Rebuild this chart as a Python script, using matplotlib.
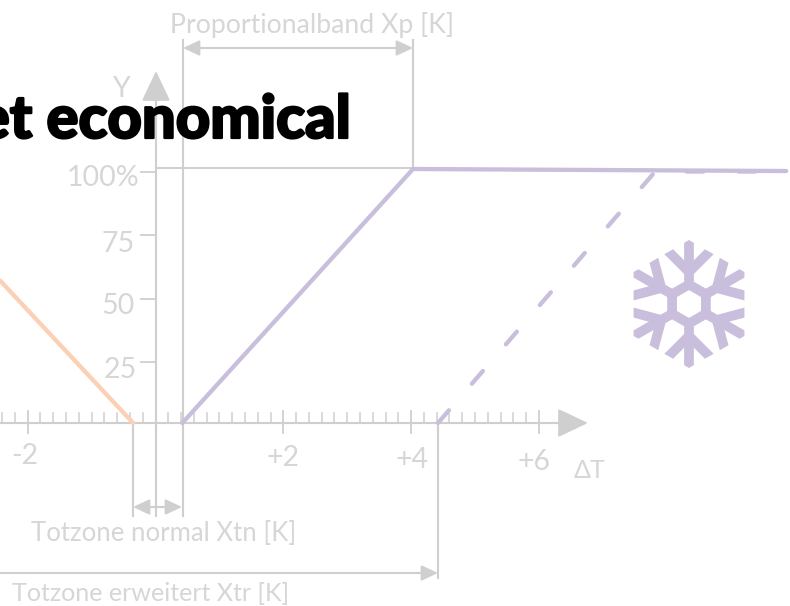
import numpy as np
import matplotlib
matplotlib.use("Agg")
import matplotlib.pyplot as plt
import matplotlib.patheffects as pe
from matplotlib.patches import Polygon

# chart values, delta T in K and output Y in %
heat_x = [-2.43, -0.35]
heat_y = [56, 0]
cool_x = [0.42, 4.03, 9.87]
cool_y = [0, 100, 99.2]
cool_ext_x = [4.42, 7.82, 9.87]
cool_ext_y = [0, 99, 99]
xtick_major = [-2, 2, 4, 6]
xtick_labels = ["-2", "+2", "+4", "+6"]
# the tick marks in the picture sit a little below their nominal values
ytick_vals = [24, 49, 74, 98.9]
ytick_labels = ["25", "50", "75", "100%"]
guide_100 = 100.4

GREY = "#cfcfcf"
TXT = "#d6d6d6"
PURPLE = "#c9bfdc"
ORANGE = "#fbd0b5"

W, H = 790, 606
fig = plt.figure(figsize=(W / 100, H / 100), dpi=100)
ax = fig.add_axes([0, 0, 1, 1])
px_x = 63.9
px_y = 2.54
x0, y0 = 155.5, 423
ax.set_xlim(-x0 / px_x, (W - x0) / px_x)
ax.set_ylim(-(H - y0) / px_y, y0 / px_y)
ax.axis("off")

plt.rcParams["font.family"] = ["Lato", "DejaVu Sans"]
font = dict(family=["Lato", "DejaVu Sans"], weight="normal", color=TXT)


def fx(p):
    return (p - x0) / px_x


def fy(p):
    return (y0 - p) / px_y


def arrow(x1, y1, x2, y2, style="-|>", hl=1.7, hw=0.85):
    ax.annotate("", xy=(fx(x2), fy(y2)), xytext=(fx(x1), fy(y1)),
                arrowprops=dict(arrowstyle=f"{style},head_length={hl},head_width={hw}",
                                color=GREY, lw=1.5, shrinkA=0, shrinkB=0,
                                mutation_scale=10), zorder=2)


# axes with big arrow heads
arrow(0, 423, 588, 423, hl=1.9, hw=0.9)
arrow(156, 423, 156, 71, hl=1.9, hw=0.9)

# ticks on x axis
for v in np.arange(-12, 30) / 5:
    if round(v * 5) % 10 == 0 and v != 0:
        continue
    ax.plot([v, v], [0, fy(413)], color=GREY, lw=1.1, zorder=1)
for v in xtick_major:
    ax.plot([v, v], [fy(433), fy(411)], color=GREY, lw=1.3, zorder=1)

# ticks on y axis
for v in ytick_vals:
    ax.plot([fx(141), 0], [v, v], color=GREY, lw=1.3, zorder=1)
ax.plot([fx(156), fx(413)], [guide_100, guide_100], color=GREY, lw=1.4, zorder=1)

# helper lines
for xp, top, bot in [(133, 423, 516), (156, 423, 516), (182.5, 40, 516), (413, 40, 168), (438, 423, 578)]:
    ax.plot([fx(xp), fx(xp)], [fy(top), fy(bot)], color=GREY, lw=1.5, zorder=1)

# dimension arrows
arrow(183, 48, 413, 48, style="<|-|>", hl=1.0, hw=0.47)
arrow(133, 507, 182, 507, style="<|-|>", hl=1.0, hw=0.47)
arrow(0, 573, 438, 573, hl=1.0, hw=0.47)

# curves
ax.plot(heat_x, heat_y, color=ORANGE, lw=3.1, solid_capstyle="round", zorder=3)
ax.plot(cool_x, cool_y, color=PURPLE, lw=3.1, solid_capstyle="round", solid_joinstyle="round", zorder=3)
ax.plot(cool_ext_x, cool_ext_y, color=PURPLE, lw=3.1, linestyle=(0, (3.9, 8.17)), dash_capstyle="round", zorder=3)

# tick labels
fs = 20.5
for lab, xp, yp in zip(xtick_labels, [25, 283, 412, 534], [455.5, 457.5, 460.5, 461.5]):
    ax.text(fx(xp), fy(yp), lab, ha="center", va="center", fontsize=fs, **font)
for lab, xp, yp in zip(ytick_labels, [137, 135, 135, 139], [369.5, 305.5, 243.5, 177.5]):
    ax.text(fx(xp), fy(yp), lab, ha="right", va="center", fontsize=fs, **font)
ax.text(fx(122), fy(89), "Y", ha="center", va="center", fontsize=fs, **font)
ax.text(fx(589), fy(470), "ΔT", ha="center", va="center", fontsize=18, **font)

ax.text(fx(311.5), fy(25), "Proportionalband Xp [K]", ha="center", va="center", fontsize=19.2, **font)
ax.text(fx(163.5), fy(533.5), "Totzone normal Xtn [K]", ha="center", va="center", fontsize=18.5, **font)
ax.text(fx(151), fy(593.5), "Totzone erweitert Xtr [K]", ha="center", va="center", fontsize=18.1, **font)

# headline over the chart
ax.text(fx(351), fy(138), "et economical", ha="right", va="baseline", fontsize=43,
        family=["Lato", "DejaVu Sans"], weight="black", color="black", zorder=5,
        path_effects=[pe.withStroke(linewidth=1.6, foreground="black")])

# snowflake in pixel coordinates
sn = fig.add_axes([0, 0, 1, 1])
sn.set_xlim(0, W)
sn.set_ylim(H, 0)
sn.axis("off")
sn.patch.set_alpha(0)
cx, cy = 689, 304
ang = np.radians(np.arange(6) * 60)
outline = Polygon(np.c_[cx + 64 * np.sin(ang), cy - 64 * np.cos(ang)], transform=sn.transData)
ring = Polygon(np.c_[cx + 19.5 * np.sin(ang), cy - 19.5 * np.cos(ang)], closed=True, fill=False,
               ec=PURPLE, lw=7, joinstyle="miter")
sn.add_patch(ring)
for a in ang:
    ux, uy = np.sin(a), -np.cos(a)
    vx, vy = np.cos(a), np.sin(a)
    l1, = sn.plot([cx + 19 * ux, cx + 70 * ux], [cy + 19 * uy, cy + 70 * uy], color=PURPLE, lw=7,
                  solid_capstyle="butt")
    l1.set_clip_path(outline)
    for sgn in (-1, 1):
        l2, = sn.plot([cx + 32 * ux, cx + 58 * ux + sgn * 26 * vx], [cy + 32 * uy, cy + 58 * uy + sgn * 26 * vy],
                      color=PURPLE, lw=7, solid_capstyle="butt")
        l2.set_clip_path(outline)

fig.savefig("out.png", dpi=100)
